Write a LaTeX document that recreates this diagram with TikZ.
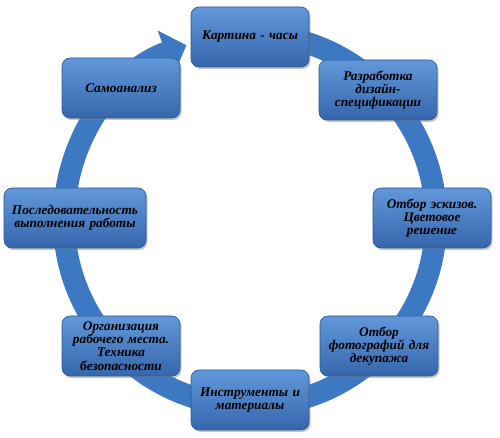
\documentclass[tikz,border=0pt]{standalone}
\usepackage{fontspec}
\setmainfont{Liberation Serif}
\usetikzlibrary{shadows, arrows.meta}
\definecolor{cycblue}{HTML}{3D78C2}
\definecolor{cyctop}{HTML}{6198DA}
\definecolor{cycbottom}{HTML}{3666AC}
\definecolor{cycedge}{HTML}{2B5894}

\tikzset{
  stage/.style={draw=cycedge, line width=0.6pt, top color=cyctop, bottom color=cycbottom,
    rounded corners=8pt, minimum width=118pt, minimum height=60pt, text width=116pt,
    align=center, inner sep=1pt, font=\fontsize{13.3}{13.2}\selectfont\bfseries\itshape,
    drop shadow={opacity=0.45, shadow xshift=1.5pt, shadow yshift=-2pt}},
  cycle ring/.style={cycblue, line width=22pt, -{Triangle[width=46pt, length=22pt]}}
}

\begin{document}
\begin{tikzpicture}[x=1pt, y=1pt]
  \useasboundingbox (0,0) rectangle (500,438);
  \coordinate (c) at (250,218);
  % the ring runs clockwise and comes back to the first stage
  \draw[cycle ring] (c) ++(90:186) arc[start angle=90, end angle=-250, radius=186];

  \node[stage] (s1) at (250,401) {Картина - часы};
  \node[stage] (s2) at (378,348) {Разработка\\дизайн-\\спецификации};
  \node[stage] (s3) at (432,220) {Отбор эскизов.\\Цветовое\\решение};
  \node[stage] (s4) at (379,92) {Отбор\\фотографий для\\декупажа};
  \node[stage] (s5) at (250,38) {Инструменты и\\материалы};
  \node[stage] (s6) at (121,92) {Организация\\рабочего места.\\Техника\\безопасности};
  \node[stage, minimum width=141pt, text width=140pt] (s7) at (75,220)
    {Последовательность\\выполнения работы};
  \node[stage] (s8) at (121,350) {Самоанализ};
\end{tikzpicture}
\end{document}
